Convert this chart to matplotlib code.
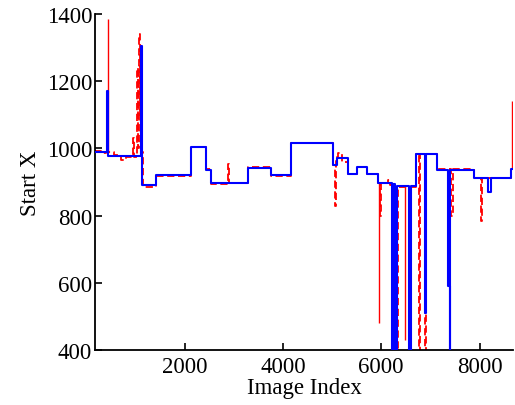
import numpy as np
import matplotlib
matplotlib.use("Agg")
import matplotlib.pyplot as plt

plt.rcParams["font.family"] = ["Liberation Serif", "DejaVu Serif"]

# blue (solid) step series: image index where the value changes, and the new value
blue_x = [180, 420, 445, 1120, 1145, 1422, 2137, 2429, 2545, 3286, 3755, 4163,
          5020, 5102, 5321, 5511, 5715, 5933, 6220, 6240, 6290, 6320, 6330,
          6565, 6600, 6715, 6895, 6902, 7143, 7360, 7390, 7400, 7884, 8180,
          8225, 8633, 8680]
blue_y = [988, 1170, 976, 1305, 892, 920, 1003, 935, 898, 942, 920, 1015,
          952, 970, 925, 944, 925, 898, 380, 893, 380, 670, 888,
          380, 888, 982, 510, 982, 935, 590, 380, 935, 913, 870,
          913, 940, 940]

# red (dashed) step series
red_x = [180, 300, 400, 560, 700, 800, 950, 975, 1040, 1058, 1075, 1092, 1108,
         1125, 1150, 1422, 2137, 2400, 2440, 2545, 2890, 2915, 3286, 3755,
         4163, 5020, 5060, 5085, 5130, 5200, 5321, 5511, 5715, 5933, 5975,
         5995, 6140, 6180, 6255, 6275, 6320, 6340, 6500, 6715, 6770, 6790,
         6890, 6910, 7143, 7430, 7455, 7884, 8030, 8060, 8633, 8680]
red_y = [992, 985, 990, 980, 965, 975, 1030, 975, 1240, 1000, 1340, 1100, 1200,
         990, 885, 918, 1005, 1005, 938, 895, 955, 898, 945, 918,
         1017, 950, 830, 975, 985, 960, 925, 946, 925, 898, 800,
         898, 905, 890, 380, 885, 380, 885, 885, 982, 380, 982,
         380, 982, 938, 800, 938, 913, 785, 913, 940, 945]

# thin red single-image spikes: index, base value, peak value
spike_x = [449, 5950, 6490, 8654]
spike_lo = [985, 898, 885, 940]
spike_hi = [1385, 480, 430, 1140]

fig = plt.figure(figsize=(5.15, 4.06), dpi=100)
ax = fig.add_axes([0.1845, 0.1355, 0.8115, 0.8275])

ax.vlines(spike_x, spike_lo, spike_hi, colors="#ff0000", linewidth=1.0, zorder=2)
ax.step(red_x, red_y, where="post", color="#ff0000", linestyle="--",
        linewidth=1.3, dashes=(4, 2), zorder=2)
ax.step(blue_x, blue_y, where="post", color="#0000ff", linewidth=1.5, zorder=3)

ax.set_xlim(180, 8680)
ax.set_ylim(400, 1400)
ax.set_xticks([2000, 4000, 6000, 8000])
ax.set_yticks([400, 600, 800, 1000, 1200, 1400])

for s in ["top", "right"]:
    ax.spines[s].set_visible(False)
for s in ["left", "bottom"]:
    ax.spines[s].set_linewidth(1.3)

ax.tick_params(direction="in", length=5, width=1.2, labelsize=16.5, pad=2)
ax.tick_params(axis="x", pad=4)
ax.set_xlabel("Image Index", fontsize=16.5, labelpad=0)
ax.set_ylabel("Start X", fontsize=16.5, labelpad=4)

fig.savefig("out.png", dpi=100)
